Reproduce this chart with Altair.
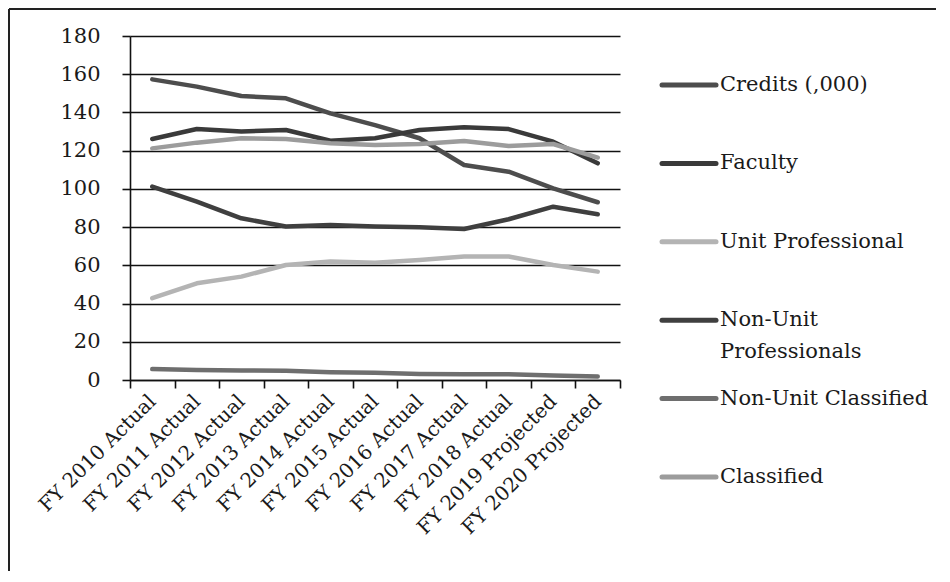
import altair as alt
import pandas as pd

categories = ["FY 2010 Actual", "FY 2011 Actual", "FY 2012 Actual", "FY 2013 Actual",
              "FY 2014 Actual", "FY 2015 Actual", "FY 2016 Actual", "FY 2017 Actual",
              "FY 2018 Actual", "FY 2019 Projected", "FY 2020 Projected"]
series_names = ["Credits (,000)", "Faculty", "Unit Professional", "Non-Unit Professionals",
                "Non-Unit Classified", "Classified"]
legend_labels = ["Credits (,000)", "Faculty", "Unit Professional", "Non-Unit\nProfessionals",
                 "Non-Unit Classified", "Classified"]
series_colors = ["#4d4d4d", "#3a3a3a", "#b4b4b4", "#3f3f3f", "#6e6e6e", "#9c9c9c"]

credits = [157.3, 153.5, 148.6, 147.4, 139.5, 133.4, 126.5, 112.5, 109.0, 100.3, 93.0]
faculty = [126.1, 131.3, 130.0, 130.8, 125.2, 126.5, 130.8, 132.2, 131.3, 124.7, 113.4]
unit_prof = [42.8, 50.6, 54.1, 60.2, 62.0, 61.4, 62.8, 64.6, 64.6, 60.2, 56.7]
non_unit_prof = [101.2, 93.3, 84.6, 80.3, 81.1, 80.3, 79.9, 79.0, 84.1, 90.7, 86.7]
non_unit_class = [5.7, 5.2, 5.0, 4.8, 4.1, 3.8, 3.2, 3.0, 3.0, 2.4, 1.8]
classified = [121.2, 124.2, 126.5, 126.1, 123.9, 123.0, 123.5, 125.1, 122.5, 123.5, 116.4]

y_ticks = list(range(0, 181, 20))

values = [credits, faculty, unit_prof, non_unit_prof, non_unit_class, classified]
rows = []
for name, vals in zip(series_names, values):
    for cat, v in zip(categories, vals):
        rows.append({"Year": cat, "Series": name, "Value": v})
df = pd.DataFrame(rows)

leg_df = pd.DataFrame({"Series": series_names, "Label": legend_labels})

FONT = "DejaVu Serif"
color = alt.Color("Series:N", scale=alt.Scale(domain=series_names, range=series_colors), legend=None)

lines = alt.Chart(df).mark_line(strokeWidth=4.5, strokeCap="round", strokeJoin="round").encode(
    x=alt.X("Year:N", sort=categories, title=None,
            scale=alt.Scale(type="band", paddingInner=0, paddingOuter=0),
            axis=alt.Axis(tickBand="extent", labelAngle=-45, labelAlign="right",
                          labelBaseline="middle", labelPadding=10, tickSize=8,
                          labelLimit=0, labelOverlap=False,
                          grid=False, labelFont=FONT, labelFontSize=20,
                          labelColor="#1a1a1a", domainColor="#111", tickColor="#111",
                          domainWidth=1.6, tickWidth=1.6)),
    y=alt.Y("Value:Q", title=None, scale=alt.Scale(domain=[0, 180], nice=False),
            axis=alt.Axis(values=y_ticks, tickSize=8, labelPadding=22, grid=True,
                          gridColor="#111", gridWidth=1.6, labelFont=FONT, labelFontSize=21,
                          labelColor="#1a1a1a", domainColor="#111", tickColor="#111",
                          domainWidth=1.6, tickWidth=1.6)),
    color=color,
)

leg_y = alt.Y("Series:N", sort=series_names, axis=None,
              scale=alt.Scale(type="point", domain=series_names, range=[49, 441], padding=0))

leg_sym = alt.Chart(leg_df).mark_rule(strokeWidth=5, strokeCap="round").encode(
    x=alt.value(532), x2=alt.value(586), y=leg_y, color=color)

leg_txt = alt.Chart(leg_df).mark_text(align="left", baseline="top", dy=-11, lineBreak="\n",
                                      lineHeight=32, font=FONT, fontSize=21,
                                      color="#1a1a1a").encode(
    x=alt.value(590), y=leg_y, text="Label:N")

one = pd.DataFrame({"k": [0]})
border_top = alt.Chart(one).mark_rule(color="#222", strokeWidth=2).encode(
    x=alt.value(-121), x2=alt.value(806), y=alt.value(-27))
border_left = alt.Chart(one).mark_rule(color="#222", strokeWidth=2).encode(
    x=alt.value(-121), y=alt.value(-27), y2=alt.value(535))

chart = alt.layer(lines, leg_sym, leg_txt, border_top, border_left).resolve_scale(
    y="independent"
).properties(width=490, height=344, padding=0).configure_view(stroke=None)

chart.save("out.html", embed_options={"renderer": "svg", "actions": False})
